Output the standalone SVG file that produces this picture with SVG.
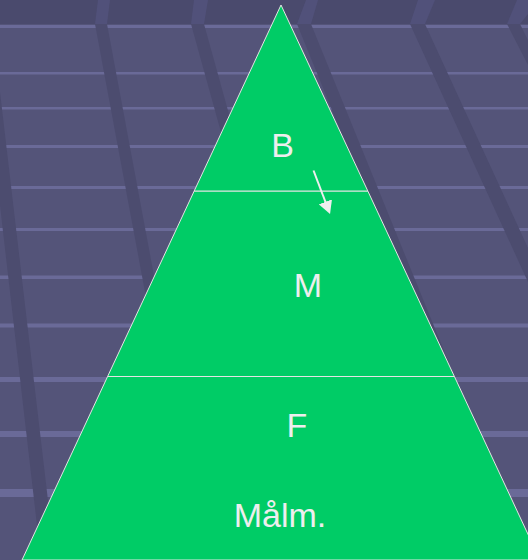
<svg xmlns="http://www.w3.org/2000/svg" width="528" height="560" viewBox="0 0 528 560">
  <style>
    .hl { fill: #6a6a98; }
    .bar { fill: #4c4c6f; }
    .barTop { fill: #51517a; }
    .tier { fill: #00cc66; stroke: #e4e4e4; stroke-width: 1; }
    .lbl { fill: #eeeeee; font-family: "Liberation Sans", Arial, sans-serif; font-size: 34px; text-anchor: middle; }
    .conn { stroke: #eeeeee; stroke-width: 2; fill: none; }
  </style>
  <defs>
    <marker id="arrow" viewBox="0 0 13 14" refX="5" refY="7" markerWidth="13" markerHeight="14" markerUnits="userSpaceOnUse" orient="auto">
      <path d="M0,0 L13,7 L0,14 z" fill="#eeeeee"/>
    </marker>
  </defs>

  <g id="background">
    <rect x="0" y="0" width="528" height="560" fill="#545479"/>
    <rect x="0" y="0" width="528" height="24" fill="#4a4a6d"/>
    <rect class="hl" x="0" y="25" width="528" height="3"/>
    <rect class="hl" x="0" y="72" width="528" height="2.5"/>
    <rect class="hl" x="0" y="107" width="528" height="2.5"/>
    <rect class="hl" x="0" y="145" width="528" height="3"/>
    <rect class="hl" x="0" y="186" width="528" height="3"/>
    <rect class="hl" x="0" y="228" width="528" height="3"/>
    <rect class="hl" x="0" y="275.5" width="528" height="3.5"/>
    <rect class="hl" x="0" y="323.5" width="528" height="4"/>
    <rect class="hl" x="0" y="377" width="528" height="5"/>
    <rect class="hl" x="0" y="431" width="528" height="6"/>
    <rect class="hl" x="0" y="489" width="528" height="8"/>
    <!-- top band bar pieces -->
    <polygon class="barTop" points="98,0 110,0 107,24 95,24"/>
    <polygon class="barTop" points="194,0 208,0 204,24 191,24"/>
    <polygon class="barTop" points="306,0 318,0 311,24 297,24"/>
    <polygon class="barTop" points="418,0 435,0 425,24 410,24"/>
    <polygon class="barTop" points="517,0 528,0 528,14 520,24 507,24"/>
    <!-- slanted dark bars -->
    <polygon class="bar" points="95,24 107,24 207,560 195,560"/>
    <polygon class="bar" points="191,24 204,24 250,190 237,190"/>
    <polygon class="bar" points="297,24 311,24 460,390 446,390"/>
    <polygon class="bar" points="410,24 425,24 528,248 528,282"/>
    <polygon class="bar" points="507,24 520,24 528,40 528,65"/>
    <polygon class="bar" points="-21,24 -8,24 55,560 41,560"/>
  </g>

  <g id="tier-F">
    <polygon class="tier" points="107.6,376.5 454.4,376.5 540,560 22,560"/>
    <text class="lbl" x="297" y="436.5">F</text>
    <text class="lbl" x="280" y="527.3">Målm.</text>
  </g>

  <g id="tier-M">
    <polygon class="tier" points="194.2,191 367.8,191 454.4,376.5 107.6,376.5"/>
    <text class="lbl" x="308" y="297.3">M</text>
  </g>

  <g id="tier-B">
    <polygon class="tier" points="281,5 367.8,191 194.2,191"/>
    <text class="lbl" x="282.5" y="156.7">B</text>
  </g>

  <g id="connectors">
    <path class="conn" d="M313.5,170.5 L327.2,206.5" marker-end="url(#arrow)"/>
  </g>
</svg>
